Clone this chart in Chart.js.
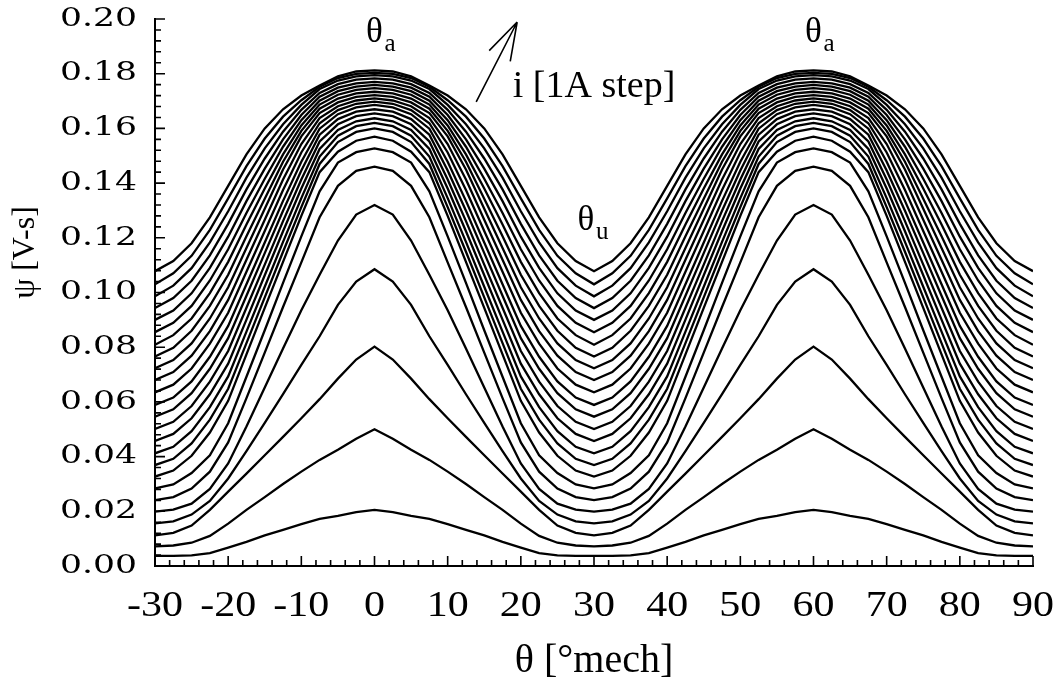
<!DOCTYPE html>
<html><head><meta charset="utf-8">
<script src="https://cdn.jsdelivr.net/npm/chart.js@4/dist/chart.umd.min.js"></script>
<style>html,body{margin:0;padding:0;background:#fff;}canvas{display:block;}</style>
</head><body>
<canvas id="c" width="1064" height="688"></canvas>
<script>
// rotor angle (deg mech)
const theta = [-30,-27.5,-25,-22.5,-20,-17.5,-15,-12.5,-10,-7.5,-5,-2.5,0,2.5,5,7.5,10,12.5,15,17.5,20,22.5,25,27.5,30,32.5,35,37.5,40,42.5,45,47.5,50,52.5,55,57.5,60,62.5,65,67.5,70,72.5,75,77.5,80,82.5,85,87.5,90];

// flux linkage psi [V-s], one curve per phase current (1 A steps)
const psi01 = [0.0037,0.0037,0.0039,0.0047,0.0067,0.0088,0.0112,0.0132,0.0153,0.0172,0.0183,0.0197,0.0205,0.0197,0.0183,0.0172,0.0153,0.0132,0.0112,0.0088,0.0067,0.0047,0.0039,0.0037,0.0037,0.0037,0.0039,0.0047,0.0067,0.0088,0.0112,0.0132,0.0153,0.0172,0.0183,0.0197,0.0205,0.0197,0.0183,0.0172,0.0153,0.0132,0.0112,0.0088,0.0067,0.0047,0.0039,0.0037,0.0037];
const psi02 = [0.0072,0.0075,0.0085,0.011,0.0155,0.0205,0.0252,0.030,0.0345,0.0388,0.0425,0.0465,0.050,0.0465,0.0425,0.0388,0.0345,0.030,0.0252,0.0205,0.0155,0.011,0.0085,0.0075,0.0072,0.0075,0.0085,0.011,0.0155,0.0205,0.0252,0.030,0.0345,0.0388,0.0425,0.0465,0.050,0.0465,0.0425,0.0388,0.0345,0.030,0.0252,0.0205,0.0155,0.011,0.0085,0.0075,0.0072];
const psi03 = [0.0112,0.0121,0.0148,0.0205,0.0272,0.0338,0.0405,0.0472,0.054,0.061,0.0685,0.0755,0.0802,0.0755,0.0685,0.061,0.054,0.0472,0.0405,0.0338,0.0272,0.0205,0.0148,0.0121,0.0112,0.0121,0.0148,0.0205,0.0272,0.0338,0.0405,0.0472,0.054,0.061,0.0685,0.0755,0.0802,0.0755,0.0685,0.061,0.054,0.0472,0.0405,0.0338,0.0272,0.0205,0.0148,0.0121,0.0112];
const psi04 = [0.0156,0.0163,0.0188,0.0238,0.032,0.042,0.0523,0.0628,0.0735,0.084,0.0955,0.104,0.1085,0.104,0.0955,0.084,0.0735,0.0628,0.0523,0.042,0.032,0.0238,0.0188,0.0163,0.0156,0.0163,0.0188,0.0238,0.032,0.042,0.0523,0.0628,0.0735,0.084,0.0955,0.104,0.1085,0.104,0.0955,0.084,0.0735,0.0628,0.0523,0.042,0.032,0.0238,0.0188,0.0163,0.0156];
const psi05 = [0.0199,0.0206,0.0228,0.0282,0.0375,0.051,0.0653,0.0795,0.0935,0.1065,0.119,0.1285,0.132,0.1285,0.119,0.1065,0.0935,0.0795,0.0653,0.051,0.0375,0.0282,0.0228,0.0206,0.0199,0.0206,0.0228,0.0282,0.0375,0.051,0.0653,0.0795,0.0935,0.1065,0.119,0.1285,0.132,0.1285,0.119,0.1065,0.0935,0.0795,0.0653,0.051,0.0375,0.0282,0.0228,0.0206,0.0199];
const psi06 = [0.0241,0.0252,0.0283,0.0345,0.0452,0.0614,0.078,0.0947,0.111,0.1275,0.139,0.1445,0.146,0.1445,0.139,0.1275,0.111,0.0947,0.078,0.0614,0.0452,0.0345,0.0283,0.0252,0.0241,0.0252,0.0283,0.0345,0.0452,0.0614,0.078,0.0947,0.111,0.1275,0.139,0.1445,0.146,0.1445,0.139,0.1275,0.111,0.0947,0.078,0.0614,0.0452,0.0345,0.0283,0.0252,0.0241];
const psi07 = [0.0284,0.0298,0.034,0.0405,0.0522,0.0692,0.0862,0.1035,0.1205,0.137,0.1475,0.1513,0.1527,0.1513,0.1475,0.137,0.1205,0.1035,0.0862,0.0692,0.0522,0.0405,0.034,0.0298,0.0284,0.0298,0.034,0.0405,0.0522,0.0692,0.0862,0.1035,0.1205,0.137,0.1475,0.1513,0.1527,0.1513,0.1475,0.137,0.1205,0.1035,0.0862,0.0692,0.0522,0.0405,0.034,0.0298,0.0284];
const psi08 = [0.0327,0.0349,0.0403,0.0488,0.0604,0.0774,0.0944,0.1112,0.128,0.144,0.1515,0.1555,0.157,0.1555,0.1515,0.144,0.128,0.1112,0.0944,0.0774,0.0604,0.0488,0.0403,0.0349,0.0327,0.0349,0.0403,0.0488,0.0604,0.0774,0.0944,0.1112,0.128,0.144,0.1515,0.1555,0.157,0.1555,0.1515,0.144,0.128,0.1112,0.0944,0.0774,0.0604,0.0488,0.0403,0.0349,0.0327];
const psi09 = [0.0369,0.0392,0.0448,0.0535,0.0648,0.0815,0.0982,0.1149,0.1312,0.147,0.155,0.1587,0.160,0.1587,0.155,0.147,0.1312,0.1149,0.0982,0.0815,0.0648,0.0535,0.0448,0.0392,0.0369,0.0392,0.0448,0.0535,0.0648,0.0815,0.0982,0.1149,0.1312,0.147,0.155,0.1587,0.160,0.1587,0.155,0.147,0.1312,0.1149,0.0982,0.0815,0.0648,0.0535,0.0448,0.0392,0.0369];
const psi10 = [0.0412,0.0436,0.0493,0.0581,0.0693,0.0857,0.1021,0.1185,0.1345,0.1497,0.1573,0.1608,0.162,0.1608,0.1573,0.1497,0.1345,0.1185,0.1021,0.0857,0.0693,0.0581,0.0493,0.0436,0.0412,0.0436,0.0493,0.0581,0.0693,0.0857,0.1021,0.1185,0.1345,0.1497,0.1573,0.1608,0.162,0.1608,0.1573,0.1497,0.1345,0.1185,0.1021,0.0857,0.0693,0.0581,0.0493,0.0436,0.0412];
const psi11 = [0.0457,0.0483,0.054,0.0628,0.074,0.0901,0.1063,0.1224,0.138,0.1525,0.1594,0.1626,0.1637,0.1626,0.1594,0.1525,0.138,0.1224,0.1063,0.0901,0.074,0.0628,0.054,0.0483,0.0457,0.0483,0.054,0.0628,0.074,0.0901,0.1063,0.1224,0.138,0.1525,0.1594,0.1626,0.1637,0.1626,0.1594,0.1525,0.138,0.1224,0.1063,0.0901,0.074,0.0628,0.054,0.0483,0.0457];
const psi12 = [0.0501,0.0527,0.0585,0.0674,0.0786,0.0944,0.1102,0.1261,0.1413,0.1552,0.1615,0.1645,0.1655,0.1645,0.1615,0.1552,0.1413,0.1261,0.1102,0.0944,0.0786,0.0674,0.0585,0.0527,0.0501,0.0527,0.0585,0.0674,0.0786,0.0944,0.1102,0.1261,0.1413,0.1552,0.1615,0.1645,0.1655,0.1645,0.1615,0.1552,0.1413,0.1261,0.1102,0.0944,0.0786,0.0674,0.0585,0.0527,0.0501];
const psi13 = [0.0546,0.0573,0.0632,0.0721,0.0833,0.0988,0.1144,0.1299,0.1446,0.1577,0.1634,0.1661,0.167,0.1661,0.1634,0.1577,0.1446,0.1299,0.1144,0.0988,0.0833,0.0721,0.0632,0.0573,0.0546,0.0573,0.0632,0.0721,0.0833,0.0988,0.1144,0.1299,0.1446,0.1577,0.1634,0.1661,0.167,0.1661,0.1634,0.1577,0.1446,0.1299,0.1144,0.0988,0.0833,0.0721,0.0632,0.0573,0.0546];
const psi14 = [0.0589,0.0616,0.0675,0.0765,0.0878,0.103,0.1183,0.1335,0.1478,0.1599,0.1652,0.1677,0.1686,0.1677,0.1652,0.1599,0.1478,0.1335,0.1183,0.103,0.0878,0.0765,0.0675,0.0616,0.0589,0.0616,0.0675,0.0765,0.0878,0.103,0.1183,0.1335,0.1478,0.1599,0.1652,0.1677,0.1686,0.1677,0.1652,0.1599,0.1478,0.1335,0.1183,0.103,0.0878,0.0765,0.0675,0.0616,0.0589];
const psi15 = [0.0635,0.0663,0.0722,0.0813,0.0926,0.1076,0.1225,0.1375,0.1512,0.1619,0.1667,0.169,0.1698,0.169,0.1667,0.1619,0.1512,0.1375,0.1225,0.1076,0.0926,0.0813,0.0722,0.0663,0.0635,0.0663,0.0722,0.0813,0.0926,0.1076,0.1225,0.1375,0.1512,0.1619,0.1667,0.169,0.1698,0.169,0.1667,0.1619,0.1512,0.1375,0.1225,0.1076,0.0926,0.0813,0.0722,0.0663,0.0635];
const psi16 = [0.068,0.0709,0.0769,0.0859,0.0973,0.112,0.1266,0.1413,0.1543,0.1638,0.1681,0.1702,0.171,0.1702,0.1681,0.1638,0.1543,0.1413,0.1266,0.112,0.0973,0.0859,0.0769,0.0709,0.068,0.0709,0.0769,0.0859,0.0973,0.112,0.1266,0.1413,0.1543,0.1638,0.1681,0.1702,0.171,0.1702,0.1681,0.1638,0.1543,0.1413,0.1266,0.112,0.0973,0.0859,0.0769,0.0709,0.068];
const psi17 = [0.0723,0.0753,0.0814,0.0905,0.1019,0.1163,0.1306,0.145,0.1571,0.1656,0.1695,0.1715,0.1722,0.1715,0.1695,0.1656,0.1571,0.145,0.1306,0.1163,0.1019,0.0905,0.0814,0.0753,0.0723,0.0753,0.0814,0.0905,0.1019,0.1163,0.1306,0.145,0.1571,0.1656,0.1695,0.1715,0.1722,0.1715,0.1695,0.1656,0.1571,0.145,0.1306,0.1163,0.1019,0.0905,0.0814,0.0753,0.0723];
const psi18 = [0.0766,0.0798,0.086,0.0951,0.1065,0.1206,0.1343,0.1478,0.1591,0.1672,0.1709,0.1728,0.1734,0.1728,0.1709,0.1672,0.1591,0.1478,0.1343,0.1206,0.1065,0.0951,0.086,0.0798,0.0766,0.0798,0.086,0.0951,0.1065,0.1206,0.1343,0.1478,0.1591,0.1672,0.1709,0.1728,0.1734,0.1728,0.1709,0.1672,0.1591,0.1478,0.1343,0.1206,0.1065,0.0951,0.086,0.0798,0.0766];
const psi19 = [0.0809,0.0844,0.0905,0.0998,0.1112,0.1249,0.138,0.1505,0.1611,0.1687,0.1723,0.1741,0.1747,0.1741,0.1723,0.1687,0.1611,0.1505,0.138,0.1249,0.1112,0.0998,0.0905,0.0844,0.0809,0.0844,0.0905,0.0998,0.1112,0.1249,0.138,0.1505,0.1611,0.1687,0.1723,0.1741,0.1747,0.1741,0.1723,0.1687,0.1611,0.1505,0.138,0.1249,0.1112,0.0998,0.0905,0.0844,0.0809];
const psi20 = [0.0855,0.0889,0.0951,0.1044,0.1158,0.1291,0.1416,0.1533,0.163,0.1701,0.1736,0.1753,0.1759,0.1753,0.1736,0.1701,0.163,0.1533,0.1416,0.1291,0.1158,0.1044,0.0951,0.0889,0.0855,0.0889,0.0951,0.1044,0.1158,0.1291,0.1416,0.1533,0.163,0.1701,0.1736,0.1753,0.1759,0.1753,0.1736,0.1701,0.163,0.1533,0.1416,0.1291,0.1158,0.1044,0.0951,0.0889,0.0855];
const psi21 = [0.09,0.0934,0.0997,0.109,0.1204,0.1334,0.1453,0.156,0.1649,0.1716,0.1749,0.1765,0.177,0.1765,0.1749,0.1716,0.1649,0.156,0.1453,0.1334,0.1204,0.109,0.0997,0.0934,0.09,0.0934,0.0997,0.109,0.1204,0.1334,0.1453,0.156,0.1649,0.1716,0.1749,0.1765,0.177,0.1765,0.1749,0.1716,0.1649,0.156,0.1453,0.1334,0.1204,0.109,0.0997,0.0934,0.09];
const psi22 = [0.0943,0.098,0.1043,0.1136,0.1251,0.1377,0.149,0.1588,0.1668,0.173,0.1762,0.1778,0.1783,0.1778,0.1762,0.173,0.1668,0.1588,0.149,0.1377,0.1251,0.1136,0.1043,0.098,0.0943,0.098,0.1043,0.1136,0.1251,0.1377,0.149,0.1588,0.1668,0.173,0.1762,0.1778,0.1783,0.1778,0.1762,0.173,0.1668,0.1588,0.149,0.1377,0.1251,0.1136,0.1043,0.098,0.0943];
const psi23 = [0.0986,0.1025,0.1089,0.1183,0.1297,0.142,0.1527,0.1615,0.1686,0.1744,0.1775,0.179,0.1795,0.179,0.1775,0.1744,0.1686,0.1615,0.1527,0.142,0.1297,0.1183,0.1089,0.1025,0.0986,0.1025,0.1089,0.1183,0.1297,0.142,0.1527,0.1615,0.1686,0.1744,0.1775,0.179,0.1795,0.179,0.1775,0.1744,0.1686,0.1615,0.1527,0.142,0.1297,0.1183,0.1089,0.1025,0.0986];
const psi24 = [0.103,0.107,0.1134,0.1229,0.1344,0.1462,0.1563,0.1643,0.1703,0.1752,0.1784,0.1799,0.1803,0.1799,0.1784,0.1752,0.1703,0.1643,0.1563,0.1462,0.1344,0.1229,0.1134,0.107,0.103,0.107,0.1134,0.1229,0.1344,0.1462,0.1563,0.1643,0.1703,0.1752,0.1784,0.1799,0.1803,0.1799,0.1784,0.1752,0.1703,0.1643,0.1563,0.1462,0.1344,0.1229,0.1134,0.107,0.103];
const psi25 = [0.1078,0.1115,0.118,0.1275,0.139,0.1505,0.16,0.167,0.172,0.1757,0.179,0.1808,0.1812,0.1808,0.179,0.1757,0.172,0.167,0.16,0.1505,0.139,0.1275,0.118,0.1115,0.1078,0.1115,0.118,0.1275,0.139,0.1505,0.16,0.167,0.172,0.1757,0.179,0.1808,0.1812,0.1808,0.179,0.1757,0.172,0.167,0.16,0.1505,0.139,0.1275,0.118,0.1115,0.1078];

const currents = [1,2,3,4,5,6,7,8,9,10,11,12,13,14,15,16,17,18,19,20,21,22,23,24,25];
const curves = [psi01,psi02,psi03,psi04,psi05,psi06,psi07,psi08,psi09,psi10,psi11,psi12,psi13,psi14,psi15,psi16,psi17,psi18,psi19,psi20,psi21,psi22,psi23,psi24,psi25];

// axis ticks
const xMajorTicks = [-30,-20,-10,0,10,20,30,40,50,60,70,80,90];
const xTickLabels = ['-30','-20','-10','0','10','20','30','40','50','60','70','80','90'];
const xMinorTicks = [-28,-26,-24,-22,-18,-16,-14,-12,-8,-6,-4,-2,2,4,6,8,12,14,16,18,22,24,26,28,32,34,36,38,42,44,46,48,52,54,56,58,62,64,66,68,72,74,76,78,82,84,86,88];
const yMajorTicks = [0,0.02,0.04,0.06,0.08,0.10,0.12,0.14,0.16,0.18,0.20];
const yTickLabels = ['0.00','0.02','0.04','0.06','0.08','0.10','0.12','0.14','0.16','0.18','0.20'];
const yMinorTicks = [0.004,0.008,0.012,0.016,0.024,0.028,0.032,0.036,0.044,0.048,0.052,0.056,0.064,0.068,0.072,0.076,0.084,0.088,0.092,0.096,0.104,0.108,0.112,0.116,0.124,0.128,0.132,0.136,0.144,0.148,0.152,0.156,0.164,0.168,0.172,0.176,0.184,0.188,0.192,0.196];

const xTitle = 'θ [°mech]';
const yTitle = 'ψ [V-s]';

const SERIF = '"Liberation Serif", "Times New Roman", serif';
const WIDE = '"DejaVu Serif", serif';

const datasets = curves.map((arr, k) => ({
  label: currents[k] + ' A',
  data: theta.map((t, j) => ({x: t, y: arr[j]})),
  borderColor: '#000',
  borderWidth: 2.3,
  pointRadius: 0,
  tension: 0,
  fill: false
}));

const inwardTicks = {
  id: 'inwardTicks',
  afterDatasetsDraw(chart) {
    const {ctx, chartArea: a, scales: {x, y}} = chart;
    ctx.save();
    ctx.strokeStyle = '#000';
    ctx.lineWidth = 1.6;
    ctx.beginPath();
    xMajorTicks.forEach(v => { const p = x.getPixelForValue(v); ctx.moveTo(p, a.bottom); ctx.lineTo(p, a.bottom - 10); });
    xMinorTicks.forEach(v => { const p = x.getPixelForValue(v); ctx.moveTo(p, a.bottom); ctx.lineTo(p, a.bottom - 6); });
    yMajorTicks.forEach(v => { const p = y.getPixelForValue(v); ctx.moveTo(a.left, p); ctx.lineTo(a.left + 10, p); });
    yMinorTicks.forEach(v => { const p = y.getPixelForValue(v); ctx.moveTo(a.left, p); ctx.lineTo(a.left + 6, p); });
    ctx.stroke();
    ctx.restore();
  }
};

const notes = {
  id: 'notes',
  afterDraw(chart) {
    const {ctx, scales: {x, y}} = chart;
    ctx.save();
    ctx.fillStyle = '#000';
    ctx.strokeStyle = '#000';
    ctx.textBaseline = 'alphabetic';
    const symbol = (xv, yv, sub) => {
      const px = x.getPixelForValue(xv), py = y.getPixelForValue(yv);
      ctx.font = '35px ' + SERIF;
      ctx.textAlign = 'center';
      ctx.fillText('θ', px, py);
      ctx.font = '25px ' + SERIF;
      ctx.textAlign = 'left';
      ctx.fillText(sub, px + 10, py + 9);
    };
    symbol(0, 0.1916, 'a');
    symbol(60, 0.1916, 'a');
    symbol(28.9, 0.1229, 'u');
    // current direction arrow
    const tx = x.getPixelForValue(19.5), ty = y.getPixelForValue(0.1989);
    const bx = x.getPixelForValue(13.9), by = y.getPixelForValue(0.1697);
    ctx.lineWidth = 1.6;
    ctx.beginPath();
    ctx.moveTo(bx, by); ctx.lineTo(tx, ty);
    const ang = Math.atan2(by - ty, bx - tx);
    [0.3, -0.3].forEach(da => { ctx.moveTo(tx, ty); ctx.lineTo(tx + 40 * Math.cos(ang + da), ty + 40 * Math.sin(ang + da)); });
    ctx.stroke();
    ctx.font = '38px ' + SERIF;
    ctx.textAlign = 'left';
    ctx.fillText('i [1A step]', x.getPixelForValue(18.9), y.getPixelForValue(0.1715));
    ctx.restore();
  }
};

const zeroPad = s => { s.paddingLeft = 0; s.paddingRight = 0; s.paddingTop = 0; s.paddingBottom = 0; };

const NB = '\u00A0';
const chart = new Chart(document.getElementById('c'), {
  type: 'line',
  data: {datasets},
  options: {
    responsive: false,
    animation: false,
    devicePixelRatio: 1,
    layout: {padding: {top: 19, right: 31, left: 0, bottom: 0}},
    plugins: {legend: {display: false}, tooltip: {enabled: false}},
    scales: {
      x: {
        type: 'linear', min: -30, max: 90, position: 'bottom',
        afterFit: s => { s.height = 122; zeroPad(s); },
        afterBuildTicks: s => { s.ticks = xMajorTicks.map(v => ({value: v})); },
        grid: {display: false, drawTicks: false},
        border: {display: true, color: '#000', width: 2},
        ticks: {autoSkip: false, maxRotation: 0, color: '#000', padding: 20,
          font: {family: SERIF, size: 35},
          callback: (v, i) => xTickLabels[i]},
        title: {display: true, text: xTitle, color: '#000',
          font: {family: SERIF, size: 40}, padding: {top: 0, bottom: 3}}
      },
      y: {
        type: 'linear', min: 0, max: 0.2,
        afterFit: s => { s.width = 155; zeroPad(s); },
        afterBuildTicks: s => { s.ticks = yMajorTicks.map(v => ({value: v})); },
        grid: {display: false, drawTicks: false},
        border: {display: true, color: '#000', width: 2},
        ticks: {color: '#000', padding: 18,
          font: {family: WIDE, size: 26},
          callback: (v, i) => yTickLabels[i]},
        title: {display: true, text: NB.repeat(10) + yTitle, color: '#000',
          font: {family: SERIF, size: 32}, padding: {top: 6, bottom: 0}}
      }
    }
  },
  plugins: [inwardTicks, notes]
});

// widen the tick-label glyphs horizontally (the original uses a wide face)
function stretchLabels(scale, sx) {
  const orig = scale.drawLabels;
  scale.drawLabels = function (area) {
    const ctx = this.ctx;
    const f = ctx.fillText;
    ctx.fillText = function (t, px, py) {
      this.save(); this.translate(px, py); this.scale(sx, 1); f.call(this, t, 0, 0); this.restore();
    };
    try { orig.call(this, area); } finally { ctx.fillText = f; }
  };
}
stretchLabels(chart.scales.y, 1.33);
stretchLabels(chart.scales.x, 1.2);
chart.draw();
</script>
</body></html>
